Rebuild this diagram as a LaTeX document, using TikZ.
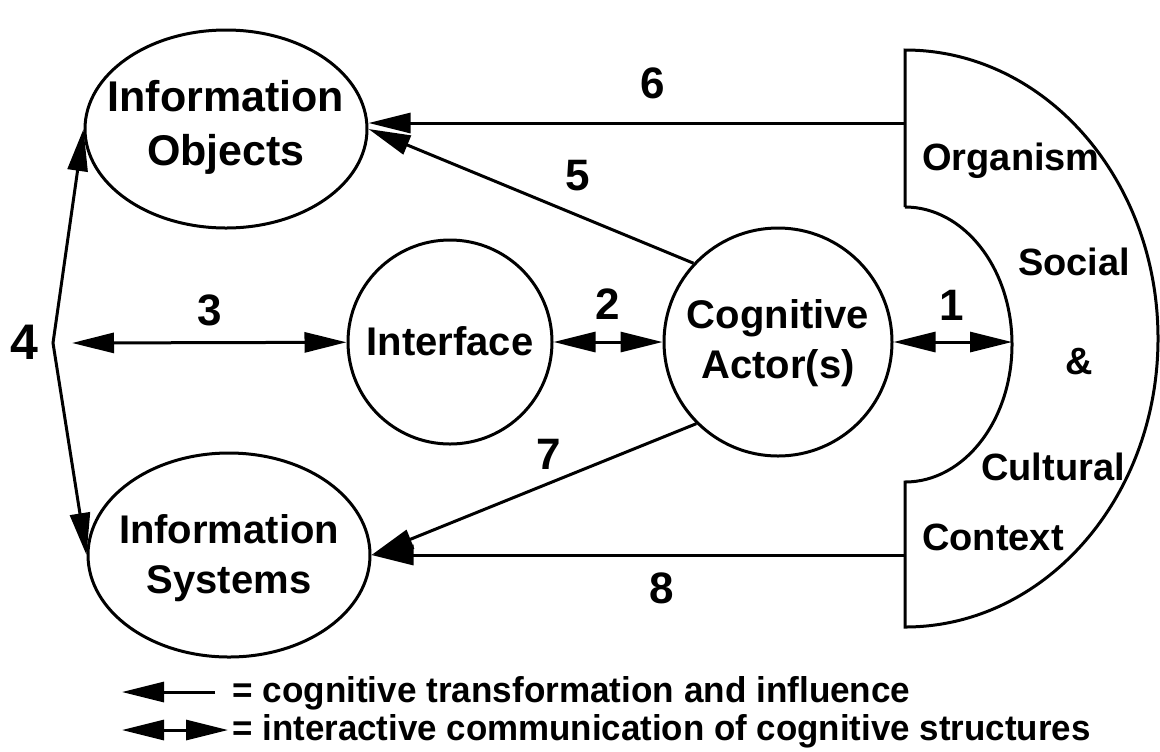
\documentclass[tikz,border=0pt]{standalone}
\usepackage{fontspec}
\setmainfont{Liberation Sans}
\usetikzlibrary{arrows.meta,shapes.geometric}
\begin{document}
\begin{tikzpicture}[x=0.5pt,y=-0.5pt,
  >={Triangle[length=21pt,width=10pt]},
  shapeline/.style={draw, line width=1.5pt, inner sep=0pt},
  btext/.style={inner sep=0pt, align=center, font=\fontsize{20}{25}\bfseries\selectfont},
  num/.style={inner sep=0pt, font=\fontsize{22}{26}\bfseries\selectfont},
  ctx/.style={inner sep=0pt, font=\fontsize{19}{23}\bfseries\selectfont},
  conn/.style={line width=1.5pt},
]
\useasboundingbox (0,0) rectangle (1160,751);

% main shapes
\node[shapeline, ellipse, minimum width=141pt, minimum height=99pt] (obj) at (226,129) {};
\node[shapeline, ellipse, minimum width=141pt, minimum height=102pt] (sys) at (229,555) {};
\node[shapeline, circle, minimum size=102pt] (iface) at (450,342) {};
\node[shapeline, circle, minimum size=114pt] (cog) at (778,342) {};

\node[btext, font=\fontsize{21.5}{27}\bfseries\selectfont] (objt) at (226,127) {Information\\Objects};
\node[btext] (syst) at (229,558) {Information\\Systems};
\node[btext] (ifacet) at (450,341) {Interface};
\node[btext] (cogt) at (778,343) {Cognitive\\Actor(s)};

% context shape
\draw[line width=1.5pt] (905,207) -- (905,50)
  arc[start angle=90, end angle=-90, x radius=126.5pt, y radius=144.25pt]
  -- (905,482)
  arc[start angle=-90, end angle=90, x radius=53.5pt, y radius=68.75pt];
\coordinate (c6) at (905,123);
\coordinate (c8) at (905,555);
\coordinate (c1) at (1012,342);

\node[ctx] (org) at (1011,161) {Organism};
\node[ctx] (soc) at (1074,262) {Social};
\node[ctx] (amp) at (1079,362) {\&};
\node[ctx] (cul) at (1053,467) {Cultural};
\node[ctx] (con) at (993,537) {Context};

% junction for 3 and 4
\coordinate (j4) at (53,343);
\coordinate (j3) at (72,343);

% connectors
\draw[conn,<->] (cog) -- (c1);
\draw[conn,<->] (iface) -- (cog);
\draw[conn,<->] (j3) -- (iface);
\draw[conn,<->] (obj.west) -- (j4) -- (sys.west);
\draw[conn,->] (cog.137) -- (obj.east);
\draw[conn,->] (c6) -- (c6 -| obj.east);
\draw[conn,->] (cog.225) -- (sys.east);
\draw[conn,->] (c8) -- (sys.east);

% numbers
\node[num] (n1) at (952,305) {1};
\node[num] (n2) at (608,304) {2};
\node[num] (n3) at (210,310) {3};
\node[num, font=\fontsize{25}{30}\bfseries\selectfont] (n4) at (24,342) {4};
\node[num] (n5) at (578,176) {5};
\node[num] (n6) at (653,83) {6};
\node[num] (n7) at (549,454) {7};
\node[num] (n8) at (662,588) {8};

% legend
\coordinate (l1a) at (122,692);
\coordinate (l1b) at (215,692);
\coordinate (l2a) at (122,730);
\coordinate (l2b) at (228,730);
\draw[conn,->] (l1b) -- (l1a);
\draw[conn,<->] (l2a) -- (l2b);
\node[inner sep=0pt, anchor=base west] (leg1) at (232,702) {\resizebox{339pt}{13pt}{\bfseries = cognitive transformation and influence}};
\node[inner sep=0pt, anchor=base west] (leg2) at (232,740) {\resizebox{429pt}{13pt}{\bfseries = interactive communication of cognitive structures}};
\end{tikzpicture}
\end{document}
